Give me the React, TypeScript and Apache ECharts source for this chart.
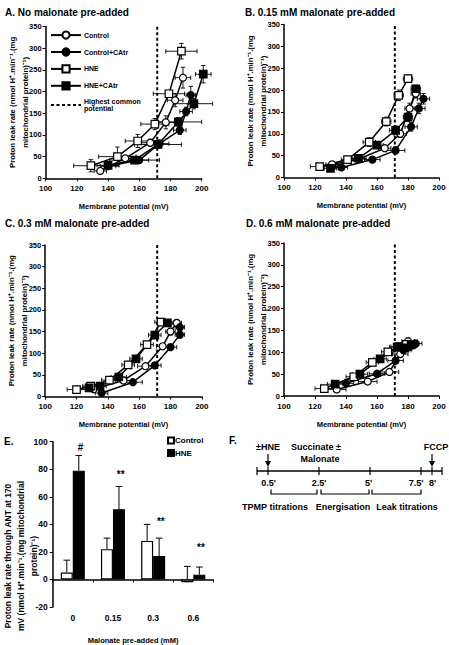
import React, { useEffect, useRef } from 'react';
import * as echarts from 'echarts';

const FONT = '"Liberation Sans", Arial, Helvetica, sans-serif';

// ---- Panels A-D: [membrane potential (mV), proton leak rate, x error, y error]
const A_CONTROL = [[135, 17, 4, 4], [151, 46, 5, 6], [167, 82, 7, 8], [177, 129, 6, 15], [183, 180, 5, 15], [188, 232, 5, 24]];
const A_CONTROL_CATR = [[140, 28, 5, 5], [160, 42, 6, 6], [173, 80, 6, 8], [186, 111, 4, 10], [190, 154, 4, 10], [193, 192, 3, 20]];
const A_HNE = [[129, 29, 11, 14], [146, 50, 12, 22], [159, 86, 8, 15], [170, 125, 9, 13], [179, 195, 10, 8], [187, 293, 10, 18]];
const A_HNE_CATR = [[140, 30, 7, 7], [157, 42, 16, 8], [172, 78, 15, 8], [185, 130, 15, 10], [195, 172, 12, 12], [201, 240, 5, 20]];

const B_CONTROL = [[131, 30, 4, 4], [148, 42, 4, 5], [165, 67, 4, 6], [175, 100, 4, 8], [181, 158, 3, 12], [185, 192, 3, 10]];
const B_CONTROL_CATR = [[137, 23, 4, 4], [157, 41, 5, 5], [172, 62, 6, 8], [182, 116, 4, 10], [187, 158, 4, 12], [190, 180, 4, 12]];
const B_HNE = [[123, 25, 6, 5], [141, 41, 4, 6], [155, 81, 4, 10], [166, 128, 3, 10], [174, 188, 3, 12], [180, 226, 3, 8]];
const B_HNE_CATR = [[130, 21, 4, 4], [148, 44, 5, 6], [160, 74, 4, 6], [172, 108, 4, 10], [180, 138, 3, 10], [185, 203, 3, 8]];

const C_CONTROL = [[131, 17, 4, 3], [150, 37, 5, 4], [164, 70, 5, 5], [175, 116, 4, 6], [180, 150, 3, 8], [184, 170, 3, 8]];
const C_CONTROL_CATR = [[136, 8, 4, 3], [156, 33, 6, 4], [170, 72, 4, 5], [180, 114, 4, 6], [186, 143, 3, 8], [186, 160, 3, 8]];
const C_HNE = [[120, 16, 6, 3], [129, 24, 5, 4], [141, 38, 5, 4], [153, 73, 4, 5], [165, 120, 4, 6], [174, 172, 4, 5]];
const C_HNE_CATR = [[128, 20, 4, 3], [135, 24, 4, 4], [147, 45, 5, 5], [158, 87, 4, 6], [170, 142, 4, 6], [178, 170, 4, 6]];

const D_CONTROL = [[134, 15, 6, 4], [154, 33, 6, 5], [168, 55, 6, 6], [175, 96, 5, 8], [178, 114, 5, 8], [180, 125, 4, 8]];
const D_CONTROL_CATR = [[140, 29, 5, 4], [160, 51, 5, 5], [172, 81, 5, 6], [177, 105, 5, 8], [181, 113, 4, 8], [185, 120, 4, 8]];
const D_HNE = [[126, 17, 6, 4], [145, 44, 5, 5], [157, 77, 4, 6], [167, 101, 4, 6], [174, 113, 5, 8], [179, 118, 4, 8]];
const D_HNE_CATR = [[133, 27, 5, 4], [149, 50, 5, 5], [162, 85, 4, 6], [173, 112, 5, 8], [178, 110, 5, 8], [182, 117, 4, 8]];

const HIGHEST_COMMON_POTENTIAL = 171.5;
const X_MIN = 100, X_MAX = 200, X_STEP = 20;
const Y_MIN = 0, Y_MAX = 350, Y_STEP = 50;

const PANEL_TITLES = ['A. No malonate pre-added', 'B. 0.15 mM malonate pre-added', 'C. 0.3 mM malonate pre-added', 'D. 0.6 mM malonate pre-added'];

// ---- Panel E
const E_CATEGORIES = ['0', '0.15', '0.3', '0.6'];
const E_CONTROL = [5, 22, 28, -2];
const E_CONTROL_ERR = [9, 8, 12, 11.5];
const E_HNE = [79, 51, 17, 3.5];
const E_HNE_ERR = [11, 16.5, 13, 5.5];
const E_ANNOT = ['#', '**', '**', '**'];
const E_ANNOT_Y = [96, 76, 42, 23];
const E_Y_MIN = -20, E_Y_MAX = 100, E_Y_STEP = 20;

const PANELS = [
  { control: A_CONTROL, controlCatr: A_CONTROL_CATR, hne: A_HNE, hneCatr: A_HNE_CATR },
  { control: B_CONTROL, controlCatr: B_CONTROL_CATR, hne: B_HNE, hneCatr: B_HNE_CATR },
  { control: C_CONTROL, controlCatr: C_CONTROL_CATR, hne: C_HNE, hneCatr: C_HNE_CATR },
  { control: D_CONTROL, controlCatr: D_CONTROL_CATR, hne: D_HNE, hneCatr: D_HNE_CATR },
];

const GROUPS = [
  { name: 'Control', key: 'control', symbol: 'circle', fill: '#fff', size: 7 },
  { name: 'Control+CAtr', key: 'controlCatr', symbol: 'circle', fill: '#000', size: 7 },
  { name: 'HNE', key: 'hne', symbol: 'rect', fill: '#fff', size: 7.5 },
  { name: 'HNE+CAtr', key: 'hneCatr', symbol: 'rect', fill: '#000', size: 7.5 },
];
const HCP_NAME = 'Highest common potential';

const GRIDS = [
  { left: 45.6, top: 26.5, width: 156.1, height: 151.8 },
  { left: 284, top: 24.5, width: 155, height: 153 },
  { left: 45.2, top: 245, width: 156.6, height: 151.5 },
  { left: 284, top: 243, width: 155, height: 153 },
  { left: 52.7, top: 441.7, width: 160.7, height: 199 },
];
const TITLE_POS = [[5, 7.5], [245, 7.5], [5, 218], [246, 218]];

const axisLineStyle = { show: true, lineStyle: { color: '#000', width: 1.5 } };
const axisTickStyle = { show: true, length: 3, lineStyle: { color: '#000', width: 1 } };
const boldText = (size: number) => ({ color: '#000', fontWeight: 'bold' as const, fontSize: size, fontFamily: FONT });

function errorBarItem(params: any, api: any) {
  const x = api.value(0), y = api.value(1), xe = api.value(2), ye = api.value(3);
  const c = api.coord([x, y]);
  const xl = api.coord([x - xe, y])[0];
  const xr = api.coord([x + xe, y])[0];
  const yt = api.coord([x, y + ye])[1];
  const yb = api.coord([x, y - ye])[1];
  const cap = 2.2;
  const style = { stroke: '#000', lineWidth: 0.9, fill: null };
  const seg = (x1: number, y1: number, x2: number, y2: number) => ({ type: 'line', shape: { x1, y1, x2, y2 }, style });
  return {
    type: 'group',
    children: [
      seg(xl, c[1], xr, c[1]), seg(xl, c[1] - cap, xl, c[1] + cap), seg(xr, c[1] - cap, xr, c[1] + cap),
      seg(c[0], yt, c[0], yb), seg(c[0] - cap, yt, c[0] + cap, yt), seg(c[0] - cap, yb, c[0] + cap, yb),
    ],
  };
}

function barErrorRender(offset: number) {
  return (params: any, api: any) => {
    const i = api.value(0), v = api.value(1), e = api.value(2);
    const p0 = api.coord([i, v]);
    const p1 = api.coord([i, v + e]);
    const x = p0[0] + offset;
    const cap = 3.3;
    const style = { stroke: '#000', lineWidth: 1, fill: null };
    return {
      type: 'group',
      children: [
        { type: 'line', shape: { x1: x, y1: p0[1], x2: x, y2: p1[1] }, style },
        { type: 'line', shape: { x1: x - cap, y1: p1[1], x2: x + cap, y2: p1[1] }, style },
      ],
    };
  };
}

function annotRender(params: any, api: any) {
  const i = api.value(0), y = api.value(1);
  const p = api.coord([i, y]);
  return {
    type: 'text', x: p[0] + 7.7, y: p[1],
    style: {
      text: E_ANNOT[params.dataIndex], align: 'center', verticalAlign: 'middle',
      font: `bold 10px ${FONT}`, fill: '#000',
    },
  };
}

function buildOption() {
  const grid = GRIDS.map((g) => ({ ...g, containLabel: false }));
  const xAxis: any[] = [];
  const yAxis: any[] = [];
  const series: any[] = [];

  PANELS.forEach((panel: any, i) => {
    xAxis.push({
      type: 'value', gridIndex: i, min: X_MIN, max: X_MAX, interval: X_STEP,
      axisLine: axisLineStyle, axisTick: axisTickStyle, splitLine: { show: false },
      axisLabel: { ...boldText(8), margin: 6 },
      name: 'Membrane potential (mV)', nameLocation: 'middle', nameGap: 24, nameMoveOverlap: false,
      nameTextStyle: boldText(7.5),
    });
    yAxis.push({
      type: 'value', gridIndex: i, min: Y_MIN, max: Y_MAX, interval: Y_STEP,
      axisLine: axisLineStyle, axisTick: axisTickStyle, splitLine: { show: false },
      axisLabel: { ...boldText(7.5), margin: 4 },
      name: 'Proton leak rate (nmol H\u207A.min\u207B\u00B9.(mg\nmitochondrial protein)\u207B\u00B9)',
      nameLocation: 'middle', nameGap: 14, nameRotate: 90, nameMoveOverlap: false,
      nameTextStyle: { ...boldText(7.8), lineHeight: 13 },
    });

    series.push({
      name: HCP_NAME, type: 'line', xAxisIndex: i, yAxisIndex: i,
      data: [[HIGHEST_COMMON_POTENTIAL, Y_MIN], [HIGHEST_COMMON_POTENTIAL, Y_MAX]],
      symbol: 'none', itemStyle: { color: 'rgba(0,0,0,0)', borderWidth: 0 },
      lineStyle: { color: '#000', width: 2, type: [3, 2.5] }, z: 1, silent: true,
    });

    const errData: number[][] = [];
    GROUPS.forEach((g) => panel[g.key].forEach((p: number[]) => errData.push(p)));
    series.push({
      type: 'custom', name: 'err' + i, xAxisIndex: i, yAxisIndex: i, data: errData,
      renderItem: errorBarItem, encode: { x: 0, y: 1 }, z: 2, clip: false, silent: true,
    });

    GROUPS.forEach((g) => {
      series.push({
        name: g.name, type: 'line', xAxisIndex: i, yAxisIndex: i,
        data: panel[g.key].map((p: number[]) => [p[0], p[1]]),
        symbol: g.symbol, symbolSize: g.size, showSymbol: true, clip: false,
        itemStyle: { color: g.fill, borderColor: '#000', borderWidth: 1.2 },
        lineStyle: { color: '#000', width: 1.5 }, z: 3, silent: true,
      });
    });
  });

  // Panel E
  xAxis.push({
    type: 'category', gridIndex: 4, data: E_CATEGORIES,
    axisLine: { ...axisLineStyle, onZero: true }, axisTick: axisTickStyle,
    axisLabel: { ...boldText(8.5), margin: 6 },
    name: 'Malonate pre-added (mM)', nameLocation: 'middle', nameGap: 29, nameMoveOverlap: false,
    nameTextStyle: boldText(7.5),
  });
  yAxis.push({
    type: 'value', gridIndex: 4, min: E_Y_MIN, max: E_Y_MAX, interval: E_Y_STEP,
    axisLine: axisLineStyle, axisTick: axisTickStyle, splitLine: { show: false },
    axisLabel: { ...boldText(8.5), margin: 5 },
  });
  series.push({
    name: 'E-Control', type: 'bar', xAxisIndex: 4, yAxisIndex: 4, data: E_CONTROL,
    barWidth: 12, barGap: '0%', itemStyle: { color: '#fff', borderColor: '#000', borderWidth: 1.2 }, silent: true,
  });
  series.push({
    name: 'E-HNE', type: 'bar', xAxisIndex: 4, yAxisIndex: 4, data: E_HNE,
    barWidth: 12, barGap: '0%', itemStyle: { color: '#000', borderColor: '#000', borderWidth: 1.2 }, silent: true,
  });
  series.push({
    type: 'custom', name: 'errE-Control', xAxisIndex: 4, yAxisIndex: 4,
    data: E_CONTROL.map((v, i) => [i, v, E_CONTROL_ERR[i]]),
    renderItem: barErrorRender(-6), encode: { x: 0, y: 1 }, z: 1, clip: false, silent: true,
  });
  series.push({
    type: 'custom', name: 'errE-HNE', xAxisIndex: 4, yAxisIndex: 4,
    data: E_HNE.map((v, i) => [i, v, E_HNE_ERR[i]]),
    renderItem: barErrorRender(6), encode: { x: 0, y: 1 }, z: 1, clip: false, silent: true,
  });
  series.push({
    type: 'custom', name: 'annot', xAxisIndex: 4, yAxisIndex: 4,
    data: E_ANNOT_Y.map((y, i) => [i, y]),
    renderItem: annotRender, encode: { x: 0, y: 1 }, z: 4, clip: false, silent: true,
  });

  const title = PANEL_TITLES.map((t, i) => ({
    text: t, left: TITLE_POS[i][0], top: TITLE_POS[i][1], padding: 0, textStyle: boldText(10),
  }));
  title.push({ text: 'E.', left: 4, top: 436.7, padding: 0, textStyle: boldText(10) });
  title.push({ text: 'F.', left: 229, top: 435.7, padding: 0, textStyle: boldText(10) });

  const legend = [
    {
      orient: 'vertical', left: 50, top: 30.5, itemWidth: 30, itemHeight: 9, itemGap: 7.7,
      data: [...GROUPS.map((g) => g.name), HCP_NAME], selectedMode: false, padding: 0,
      formatter: (n: string) => (n === HCP_NAME ? 'Highest common\npotential' : n),
      textStyle: { ...boldText(7), padding: [0, 0, 0, -2] },
    },
    {
      orient: 'vertical', left: 167, top: 436.5, itemWidth: 6, itemHeight: 6, itemGap: 4.5,
      icon: 'rect', data: ['E-Control', 'E-HNE'], selectedMode: false, padding: 0,
      formatter: (n: string) => n.replace('E-', ''),
      textStyle: { ...boldText(8), padding: [0, 0, 0, -4] },
    },
  ];

  // Panel F: schematic of the protocol (graphic)
  const ft = (text: string, x: number, y: number) => ({
    type: 'text', x, y, style: { text, align: 'center', verticalAlign: 'middle', font: `bold 9px ${FONT}`, fill: '#000' },
  });
  const ln = (x1: number, y1: number, x2: number, y2: number, w = 1.2) => ({
    type: 'line', shape: { x1, y1, x2, y2 }, style: { stroke: '#000', lineWidth: w },
  });
  const arrow = (x: number) => [
    ln(x, 454, x, 462, 1.2),
    { type: 'polygon', shape: { points: [[x - 3, 461], [x + 3, 461], [x, 467]] }, style: { fill: '#000' } },
  ];
  const bracket = (x1: number, x2: number) => ({
    type: 'polyline', shape: { points: [[x1, 489.5], [x1, 494], [x2, 494], [x2, 489.5]] },
    style: { stroke: '#000', lineWidth: 1.2, fill: null },
  });
  const graphic: any[] = [
    ln(257, 471, 442, 471, 1.5),
    ...[257, 268, 319, 370, 421, 432, 442].map((x) => ln(x, 467, x, 475, 1.2)),
    ...arrow(268), ...arrow(432),
    ft('\u00B1HNE', 268, 447), ft('Succinate \u00B1', 316, 447), ft('Malonate', 320, 459), ft('FCCP', 436, 447),
    ft("0.5'", 268.5, 483), ft("2.5'", 319, 483), ft("5'", 368.5, 483), ft("7.5'", 416, 483), ft("8'", 432.5, 483),
    bracket(271, 317), bracket(321, 369), bracket(372, 421),
    ft('TPMP titrations', 275, 507), ft('Energisation', 343, 507), ft('Leak titrations', 407, 507),
    {
      type: 'text', x: 21, y: 556, rotation: Math.PI / 2,
      style: {
        text: 'Proton leak rate through ANT at 170\nmV (nmol H\u207A.min\u207B\u00B9.(mg mitochondrial\nprotein)\u207B\u00B9)',
        align: 'center', verticalAlign: 'middle', font: `bold 8.5px ${FONT}`, lineHeight: 13, fill: '#000',
      },
    },
  ];

  return {
    animation: false,
    backgroundColor: '#fff',
    textStyle: { fontFamily: FONT },
    title, legend, grid, xAxis, yAxis, series, graphic,
  };
}

export default function App() {
  const ref = useRef<HTMLDivElement>(null);
  useEffect(() => {
    if (!ref.current) return;
    const chart = echarts.init(ref.current, undefined, { renderer: 'svg' });
    chart.setOption(buildOption() as any);
    return () => chart.dispose();
  }, []);
  return <div ref={ref} style={{ position: 'absolute', left: 0, top: 0, width: 449, height: 645, background: '#fff' }} />;
}
